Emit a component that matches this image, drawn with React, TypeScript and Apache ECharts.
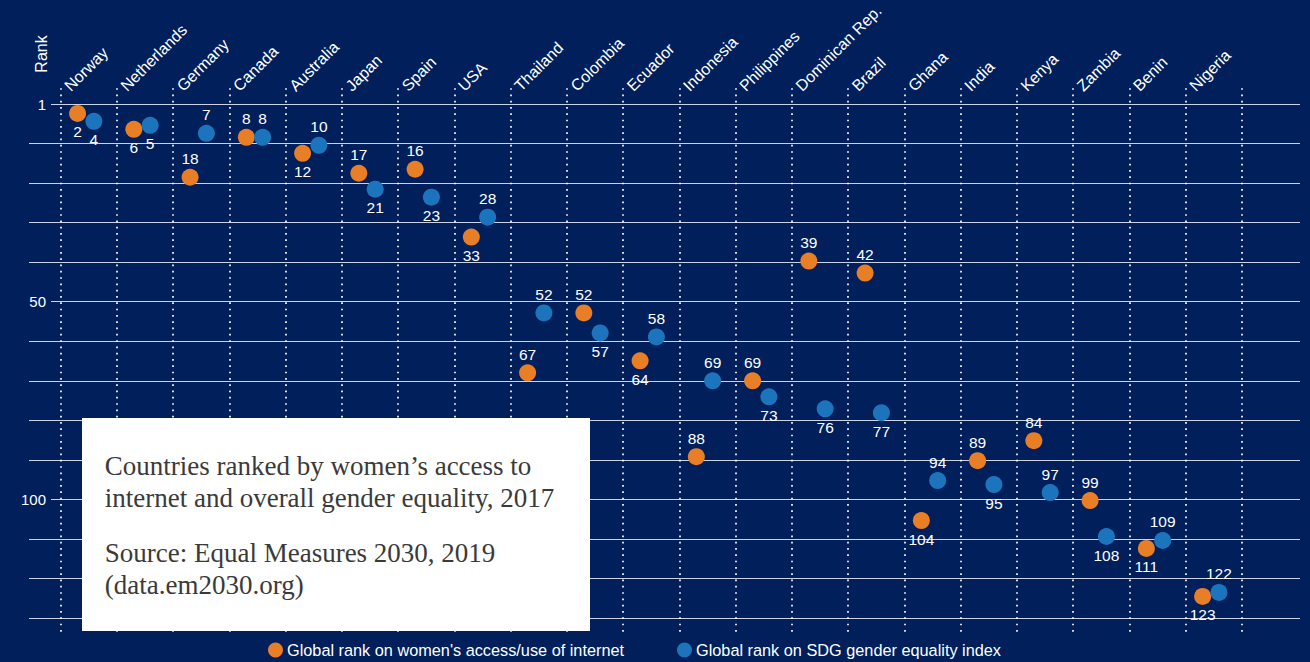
import React, { useEffect, useRef } from "react";
import * as echarts from "echarts";

// ---------- data ----------
const countries = [
  "Norway", "Netherlands", "Germany", "Canada", "Australia", "Japan", "Spain", "USA",
  "Thailand", "Colombia", "Ecuador", "Indonesia", "Philippines", "Dominican Rep.",
  "Brazil", "Ghana", "India", "Kenya", "Zambia", "Benin", "Nigeria",
];
const internetRank = [2, 6, 18, 8, 12, 17, 16, 33, 67, 52, 64, 88, 69, 39, 42, 104, 89, 84, 99, 111, 123];
const sdgRank = [4, 5, 7, 8, 10, 21, 23, 28, 52, 57, 58, 69, 73, 76, 77, 94, 95, 97, 108, 109, 122];
const internetLabelPos = ["bottom", "bottom", "top", "top", "bottom", "top", "top", "bottom", "top", "top", "bottom", "top", "top", "top", "top", "bottom", "top", "top", "top", "bottom", "bottom"];
const sdgLabelPos = ["bottom", "bottom", "top", "top", "top", "bottom", "bottom", "top", "top", "bottom", "top", "top", "bottom", "bottom", "bottom", "top", "bottom", "top", "bottom", "top", "top"];
const rankTickValues = [0, 50, 100];
const rankTickLabels = ["1", "50", "100"];
const seriesNames = [
  "Global rank on women's access/use of internet",
  "Global rank on SDG gender equality index",
];
const boxTitleLines = [
  "Countries ranked by women\u2019s access to",
  "internet and overall gender equality, 2017",
];
const boxSourceLines = ["Source: Equal Measures 2030, 2019", "(data.em2030.org)"];

// ---------- style ----------
const NAVY = "#001f5b";
const ORANGE = "#e87e25";
const BLUE = "#1c75bc";
const SANS = "'Liberation Sans', Arial, Helvetica, sans-serif";
const SERIF = "'Liberation Serif', 'Times New Roman', serif";
const ORANGE_OFFSET = 0.3;
const BLUE_OFFSET = 0.59;

export default function App() {
  const ref = useRef<HTMLDivElement>(null);

  useEffect(() => {
    if (!ref.current) return;
    const chart = echarts.init(ref.current, undefined, { renderer: "svg" });

    const mkSeries = (name: string, ranks: number[], pos: string[], off: number, color: string) => ({
      name,
      type: "scatter",
      xAxisIndex: 1,
      yAxisIndex: 1,
      symbol: "circle",
      symbolSize: 17,
      itemStyle: { color, opacity: 1 },
      label: {
        show: true,
        color: "#ffffff",
        fontSize: 15.5,
        fontFamily: SANS,
        distance: 2,
        formatter: (p: any) => String(p.value[1]),
      },
      emphasis: { disabled: true },
      data: ranks.map((r, i) => ({
        value: [i + off, r],
        label: { position: pos[i] },
      })),
      z: 5,
    });

    const legendBase = {
      top: 642,
      padding: 0,
      icon: "circle",
      itemWidth: 15,
      itemHeight: 15,
      selectedMode: false,
      textStyle: { color: "#ffffff", fontSize: 16.3, fontFamily: SANS, padding: [0, 0, 0, -1] },
    };

    const option: any = {
      animation: false,
      backgroundColor: NAVY,
      grid: [
        { left: 29, right: 10, top: 104, height: 514, containLabel: false },
        { left: 60.7, width: 1181.3, top: 87, height: 549, containLabel: false },
      ],
      xAxis: [
        { gridIndex: 0, type: "value", min: 0, max: 1, show: false },
        {
          gridIndex: 1,
          type: "value",
          position: "top",
          min: 0,
          max: countries.length,
          interval: 1,
          axisLine: { show: false },
          axisTick: { show: false },
          axisLabel: {
            rotate: 45,
            margin: -6.5,
            padding: [0, 0, 0, 9],
            color: "#ffffff",
            fontSize: 16,
            fontFamily: SANS,
            showMinLabel: true,
            showMaxLabel: true,
            formatter: (v: number) => countries[Math.round(v)] ?? "",
          },
          splitLine: {
            show: true,
            lineStyle: { color: "#ffffff", width: 1.7, type: [1.7, 4.6] },
          },
        },
      ],
      yAxis: [
        {
          gridIndex: 0,
          type: "value",
          inverse: true,
          min: 0,
          max: 130,
          interval: 10,
          axisLine: { show: false },
          axisTick: { show: false },
          axisLabel: {
            margin: -22,
            color: "#ffffff",
            fontSize: 15,
            fontFamily: SANS,
            formatter: (v: number) => {
              const k = rankTickValues.indexOf(v);
              return k >= 0 ? "{b|" + rankTickLabels[k] + "}" : "";
            },
            rich: {
              b: {
                color: "#ffffff",
                fontSize: 15,
                fontFamily: SANS,
                backgroundColor: NAVY,
                padding: [3, 5, 3, 14],
              },
            },
          },
          splitLine: {
            show: true,
            lineStyle: { color: "#ccd3e4", width: 1.2 },
          },
        },
        {
          gridIndex: 1,
          type: "value",
          inverse: true,
          min: -4.325,
          max: 132.925,
          show: false,
          splitLine: { show: false },
        },
      ],
      legend: [
        { ...legendBase, left: 268, data: [seriesNames[0]] },
        { ...legendBase, left: 677, data: [seriesNames[1]] },
      ],
      graphic: [
        {
          type: "text",
          x: 41,
          y: 54,
          rotation: Math.PI / 2,
          z: 100,
          style: {
            text: "Rank",
            fill: "#ffffff",
            fontSize: 16,
            fontFamily: SANS,
            align: "center",
            verticalAlign: "middle",
          },
        },
        {
          type: "rect",
          z: 100,
          shape: { x: 82, y: 418, width: 508, height: 213 },
          style: { fill: "#ffffff" },
        },
        ...boxTitleLines.map((t, i) => ({
          type: "text",
          x: 104.7,
          y: 466 + i * 32,
          z: 101,
          style: {
            text: t,
            fill: "#3a3a3a",
            fontSize: 27,
            fontFamily: SERIF,
            align: "left",
            verticalAlign: "middle",
          },
        })),
        ...boxSourceLines.map((t, i) => ({
          type: "text",
          x: 104.7,
          y: 553 + i * 32,
          z: 101,
          style: {
            text: t,
            fill: "#3a3a3a",
            fontSize: 27,
            fontFamily: SERIF,
            align: "left",
            verticalAlign: "middle",
          },
        })),
      ],
      series: [
        mkSeries(seriesNames[0], internetRank, internetLabelPos, ORANGE_OFFSET, ORANGE),
        mkSeries(seriesNames[1], sdgRank, sdgLabelPos, BLUE_OFFSET, BLUE),
      ],
    };

    chart.setOption(option);
    return () => chart.dispose();
  }, []);

  return (
    <div
      ref={ref}
      style={{ position: "absolute", left: 0, top: 0, width: 1310, height: 662, background: NAVY }}
    />
  );
}
